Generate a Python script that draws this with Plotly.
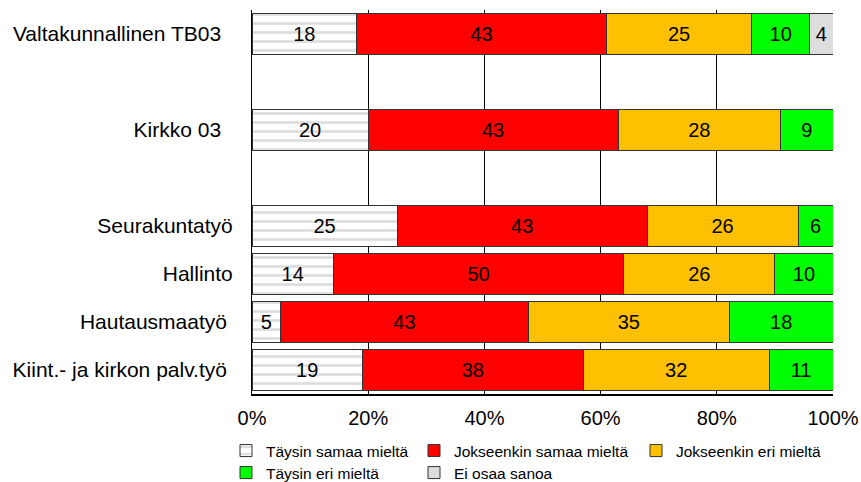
import plotly.graph_objects as go

categories = [
    "Valtakunnallinen TB03\u00a0\u00a0",
    " ",
    "Kirkko 03\u00a0\u00a0",
    "  ",
    "Seurakuntatyö",
    "Hallinto",
    "Hautausmaatyö\u00a0",
    "Kiint.- ja kirkon palv.työ\u00a0",
]

taysin_samaa = [18, None, 20, None, 25, 14, 5, 19]
jokseenkin_samaa = [43, None, 43, None, 43, 50, 43, 38]
jokseenkin_eri = [25, None, 28, None, 26, 26, 35, 32]
taysin_eri = [10, None, 9, None, 6, 10, 18, 11]
ei_osaa = [4, None, None, None, None, None, None, None]

series = [
    ("Täysin samaa mieltä", taysin_samaa, "#FFFFFF", "legend"),
    ("Jokseenkin samaa mieltä", jokseenkin_samaa, "#FF0000", "legend2"),
    ("Jokseenkin eri mieltä", jokseenkin_eri, "#FFC000", "legend3"),
    ("Täysin eri mieltä", taysin_eri, "#00FF00", "legend4"),
    ("Ei osaa sanoa", ei_osaa, "#DDDDDD", "legend5"),
]

FONT = "Arial, 'Liberation Sans', sans-serif"

fig = go.Figure()
for i, (name, vals, color, leg) in enumerate(series):
    marker = dict(color=color, line=dict(color="#333333", width=1))
    if i == 0:
        marker["pattern"] = dict(shape="-", fgcolor="#BBBBBB", bgcolor="#FFFFFF",
                                 size=9, solidity=0.3)
    fig.add_trace(go.Bar(
        name=name,
        orientation="h",
        y=categories,
        x=vals,
        marker=marker,
        text=[str(v) if v is not None else None for v in vals],
        textposition="inside",
        insidetextanchor="middle",
        insidetextfont=dict(color="#000000", size=20, family=FONT),
        legend=leg,
        hoverinfo="skip",
    ))

plot_l, plot_r = 252, 833
plot_t, plot_b = 10, 394
W, H = 861, 482
pw = plot_r - plot_l
ph = plot_b - plot_t


def px_x(px):
    return (px - plot_l) / pw


def px_y(py):
    return (plot_b - py) / ph


leg_common = dict(orientation="h", xanchor="left", yanchor="middle",
                  font=dict(size=15.5, family=FONT, color="#000000"),
                  bgcolor="rgba(0,0,0,0)", itemwidth=30)

fig.update_layout(
    width=W, height=H,
    margin=dict(l=plot_l, r=W - plot_r, t=plot_t, b=H - plot_b, pad=0,
                autoexpand=False),
    paper_bgcolor="white",
    plot_bgcolor="white",
    barmode="stack",
    barnorm="percent",
    bargap=0.15,
    font=dict(family=FONT, size=20, color="#000000"),
    legend=dict(x=px_x(226), y=px_y(451), **leg_common),
    legend2=dict(x=px_x(414), y=px_y(451), **leg_common),
    legend3=dict(x=px_x(636), y=px_y(451), **leg_common),
    legend4=dict(x=px_x(226), y=px_y(473), **leg_common),
    legend5=dict(x=px_x(414), y=px_y(473), **leg_common),
    showlegend=True,
)

fig.update_xaxes(
    range=[0, 100],
    tickvals=[0, 20, 40, 60, 80, 100],
    ticktext=["0%", "20%", "40%", "60%", "80%", "100%"],
    showgrid=True, gridcolor="#000000", gridwidth=1,
    showline=True, linecolor="#000000", linewidth=2,
    zeroline=False, automargin=False,
    ticks="", ticklabelstandoff=5, tickfont=dict(size=20, family=FONT),
    fixedrange=True,
)
fig.update_yaxes(
    type="category",
    categoryorder="array",
    categoryarray=categories,
    autorange="reversed",
    showgrid=False,
    showline=True, linecolor="#000000", linewidth=1,
    ticks="", ticklabelstandoff=14, automargin=False,
    tickfont=dict(size=21, family=FONT),
    fixedrange=True,
)

fig.write_html("out.html")
